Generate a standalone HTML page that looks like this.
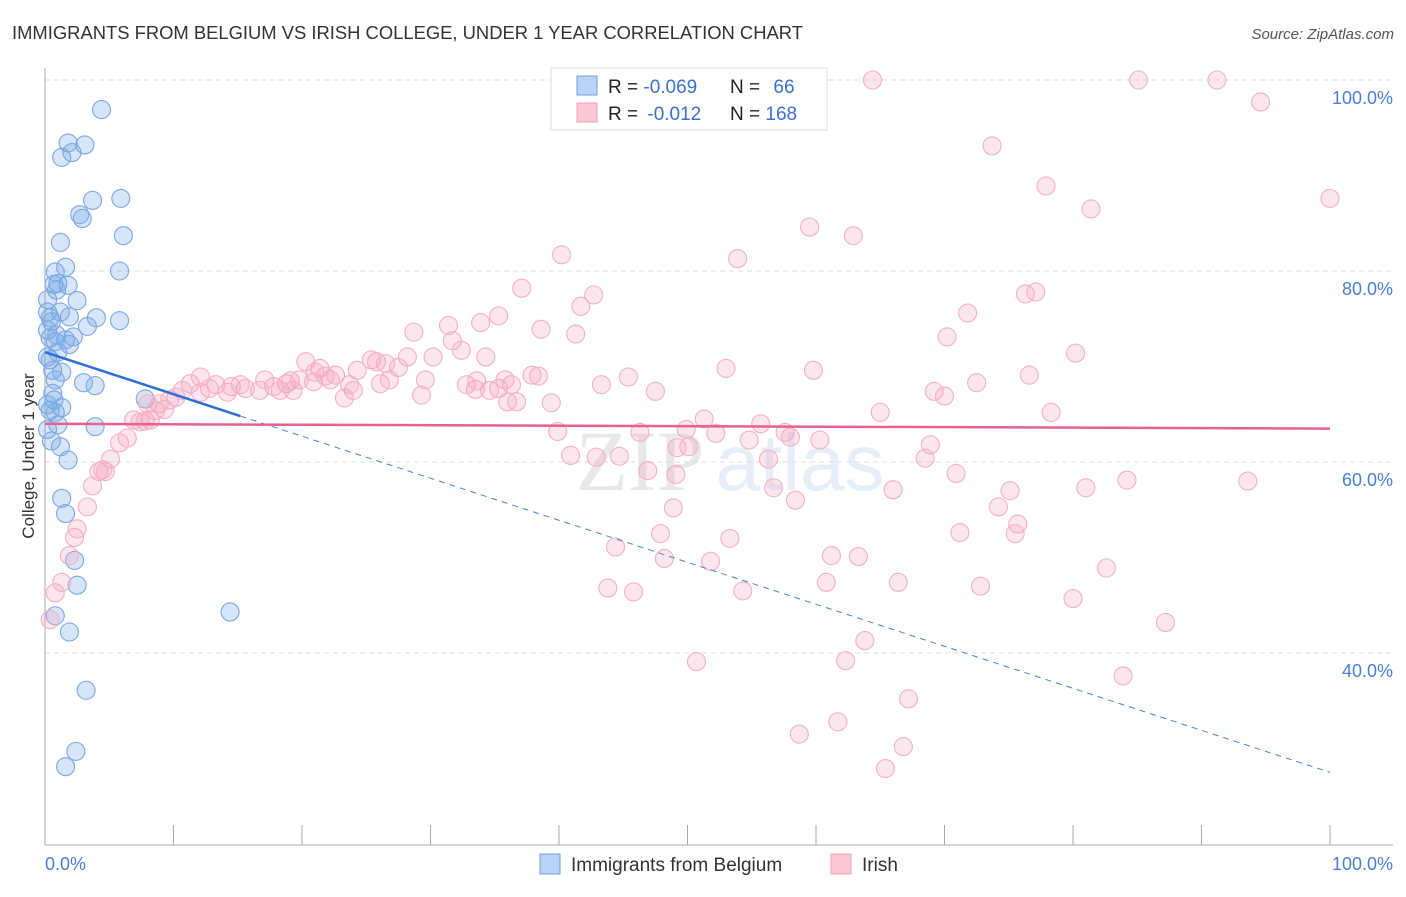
<!DOCTYPE html>
<html><head><meta charset="utf-8"><style>
body{margin:0;background:#fff;font-family:"Liberation Sans",sans-serif;}
</style></head><body>
<svg width="1406" height="892" xmlns="http://www.w3.org/2000/svg" id="chart" style="font-family:'Liberation Sans',sans-serif">
<text x="12" y="39" font-size="18.4" fill="#333">IMMIGRANTS FROM BELGIUM VS IRISH COLLEGE, UNDER 1 YEAR CORRELATION CHART</text>
<text x="1394" y="39" font-size="15" fill="#555" text-anchor="end" font-style="italic">Source: ZipAtlas.com</text>
<text transform="translate(34,456) rotate(-90)" font-size="17" fill="#333" text-anchor="middle">College, Under 1 year</text>
<g opacity="0.13"><text x="640" y="490" font-size="86" font-family="Liberation Serif,serif" fill="#555" text-anchor="middle">ZIP</text><text x="800" y="490" font-size="80" fill="#4a7fd8" text-anchor="middle">atlas</text></g>
<g id="grid"></g><g id="axes"></g><g id="pts"></g><g id="trends"></g>
<g>
<rect x="551" y="68" width="276" height="62" fill="#fff" stroke="#ddd"/>
<rect x="577" y="76" width="20" height="19" fill="#b9d3f5" stroke="#6b9fe0"/>
<rect x="577" y="103" width="20" height="19" fill="#f9c9d6" stroke="#f0a0b8"/>
<text x="608" y="93" font-size="19" fill="#222">R = <tspan fill="#3a70d0">-0.069</tspan></text>
<text x="730" y="93" font-size="19" fill="#222">N = <tspan fill="#3a70d0" dx="8">66</tspan></text>
<text x="608" y="120" font-size="19" fill="#222">R = <tspan fill="#3a70d0" dx="4">-0.012</tspan></text>
<text x="730" y="120" font-size="19" fill="#222">N = <tspan fill="#3a70d0">168</tspan></text>
</g>
<g>
<rect x="540" y="854" width="20" height="20" fill="#b9d3f5" stroke="#6b9fe0"/>
<text x="571" y="871" font-size="19" fill="#333">Immigrants from Belgium</text>
<rect x="831" y="854" width="20" height="20" fill="#f9c9d6" stroke="#f0a0b8"/>
<text x="862" y="871" font-size="19" fill="#333">Irish</text>
</g>
<text x="45" y="870" font-size="18" fill="#4a7fd8">0.0%</text>
<text x="1393" y="870" font-size="18" fill="#4a7fd8" text-anchor="end">100.0%</text>
</svg>
<script>
const yTicks=[100,80,60,40];
const yTickLabels=["100.0%","80.0%","60.0%","40.0%"];
const xTicks=[0,10,20,30,40,50,60,70,80,90,100];
const blueX=[4.4,1.8,3.1,2.1,1.3,3.7,5.9,2.7,2.9,6.1,1.2,1.6,0.8,5.8,0.7,1.8,1.0,2.5,0.2,1.2,0.4,1.9,4.0,5.8,3.3,0.5,0.2,0.9,2.2,1.6,0.4,0.8,1.9,1.0,0.2,1.3,0.8,3.0,3.9,0.6,0.7,0.4,1.3,0.8,7.8,3.9,0.5,1.2,1.8,1.3,1.6,2.3,2.5,0.8,1.9,14.4,3.2,2.4,1.6,0.2,1.0,0.2,0.4,0.6,0.2,0.9];
const blueY=[96.9,93.4,93.2,92.4,91.9,87.4,87.6,85.9,85.5,83.7,83.0,80.4,79.9,80.0,78.6,78.5,78.7,76.9,75.7,75.7,75.1,75.2,75.1,74.8,74.2,74.7,73.8,73.3,73.1,72.8,73.0,72.6,72.3,71.5,71.0,69.4,68.6,68.3,68.0,67.2,66.5,65.4,65.7,65.2,66.6,63.7,62.2,61.6,60.2,56.2,54.6,49.7,47.1,43.9,42.2,44.3,36.1,29.7,28.1,63.4,63.9,77.0,70.7,69.6,66.0,78.0];
const pinkX=[64.4,85.1,91.2,94.6,73.7,100,77.9,81.4,59.5,62.9,40.2,53.9,37.1,42.7,41.7,76.3,77.1,71.8,80.2,70.2,35.3,28.7,31.4,33.9,38.6,41.3,31.7,32.4,34.3,28.2,20.3,21.4,25.8,25.4,26.5,27.5,24.3,30.2,53.0,59.8,76.6,45.4,47.5,43.3,29.6,35.3,36.3,33.5,32.8,37.9,38.4,34.6,29.3,24.0,23.3,23.7,22.2,22.6,20.9,19.8,18.8,17.8,16.7,15.6,14.5,13.3,12.1,11.3,10.7,10.2,9.7,8.9,9.3,8.0,8.6,8.2,7.4,6.9,7.8,12.1,12.8,17.1,18.3,19.3,15.2,14.2,21.0,21.8,19.1,26.1,26.8,33.6,36.7,39.4,36.0,35.8,65.0,78.3,72.5,70.0,69.2,51.3,52.2,55.7,49.9,46.3,39.9,54.8,57.6,58.0,60.3,68.9,68.5,56.3,42.9,44.7,40.9,49.2,50.1,46.9,49.1,70.9,84.2,93.6,81.0,56.7,66.0,58.4,75.1,74.2,75.7,75.5,71.2,48.9,47.9,53.3,44.4,48.2,51.8,61.2,63.3,82.6,66.4,60.8,54.3,43.8,45.8,72.8,80.0,87.2,63.8,62.3,50.7,83.9,67.2,61.7,58.7,66.8,65.4,6.4,5.8,5.1,4.5,4.2,4.7,3.7,3.3,2.3,1.9,1.3,0.8,0.4,2.5];
const pinkY=[100,100,100,97.7,93.1,87.6,88.9,86.5,84.6,83.7,81.7,81.3,78.2,77.5,76.3,77.6,77.8,75.6,71.4,73.1,75.3,73.6,74.3,74.6,73.9,73.4,72.7,71.7,71.0,71.0,70.5,69.8,70.5,70.7,70.3,69.9,69.6,71.0,69.8,69.6,69.1,68.9,67.4,68.1,68.6,67.7,68.1,67.6,68.1,69.1,69.0,67.5,67.0,67.5,66.7,68.1,68.6,69.1,68.4,68.6,68.2,67.9,67.5,67.7,67.9,68.1,68.9,68.2,67.5,66.8,66.5,66.1,65.5,66.1,65.4,64.4,64.2,64.4,64.3,67.3,67.7,68.6,67.5,67.5,68.1,67.3,69.4,69.0,68.5,68.2,68.6,68.5,66.3,66.2,66.3,68.6,65.2,65.2,68.3,66.9,67.4,64.5,63.0,64.0,63.4,63.1,63.2,62.3,63.1,62.6,62.3,61.8,60.4,60.3,60.5,60.6,60.7,61.5,61.6,59.1,58.7,58.8,58.1,58.0,57.3,57.3,57.1,56.0,57.0,55.3,53.5,52.5,52.6,55.2,52.5,52.0,51.1,49.9,49.6,50.2,50.1,48.9,47.4,47.4,46.5,46.8,46.4,47.0,45.7,43.2,41.3,39.2,39.1,37.6,35.2,32.8,31.5,30.2,27.9,62.5,62.0,60.3,59.2,59.0,59.0,57.5,55.3,52.1,50.2,47.4,46.3,43.5,53.0];
const blueTrend=[71.5,-0.44]; // intercept, slope
const blueTrendSolidEnd=15.2;
const pinkTrend=[64.0,-0.005];
const X0=45,X1=1330,YTOP=80,PXPER=9.55;
const sx=v=>X0+(X1-X0)*v/100;
const sy=v=>YTOP+(100-v)*PXPER;
const NS="http://www.w3.org/2000/svg";
function mk(tag,attrs,parent){const e=document.createElementNS(NS,tag);for(const k in attrs)e.setAttribute(k,attrs[k]);document.getElementById(parent).appendChild(e);return e;}
yTicks.forEach((t,i)=>{
 const g=mk('line',{x1:X0,x2:1393,y1:sy(t),y2:sy(t),stroke:'#ddd','stroke-dasharray':'5,4'},'grid');
 
 
 const l=mk('text',{x:1393,y:sy(t)+24,'font-size':18,fill:'#4a7fd8','text-anchor':'end'},'grid');
 
 
 l.textContent=yTickLabels[i];
});
const ax=mk('line',{x1:X0,x2:X0,y1:68,y2:845,stroke:'#aaa'},'axes');


const bx=mk('line',{x1:X0,x2:1393,y1:845,y2:845,stroke:'#aaa'},'axes');


xTicks.forEach(t=>{const k=mk('line',{x1:sx(t),x2:sx(t),y1:825,y2:845,stroke:'#aaa'},'axes');
 
 });
blueX.forEach((v,i)=>{const c=mk('circle',{cx:sx(v),cy:sy(blueY[i]),r:9,fill:'rgba(120,170,230,0.3)',stroke:'#7aa8e4','stroke-width':1.1},'pts');
 
 });
pinkX.forEach((v,i)=>{const c=mk('circle',{cx:sx(v),cy:sy(pinkY[i]),r:9,fill:'rgba(245,165,190,0.28)',stroke:'#f4b0c4','stroke-width':1.1},'pts');
 
 });
const bt=x=>blueTrend[0]+blueTrend[1]*x, pt=x=>pinkTrend[0]+pinkTrend[1]*x;
const l1=mk('line',{x1:sx(0),y1:sy(bt(0)),x2:sx(blueTrendSolidEnd),y2:sy(bt(blueTrendSolidEnd)),stroke:'#2d6fd6','stroke-width':2.5},'trends');


const l2=mk('line',{x1:sx(blueTrendSolidEnd),y1:sy(bt(blueTrendSolidEnd)),x2:sx(100),y2:sy(bt(100)),stroke:'#4a7fd8','stroke-width':1,'stroke-dasharray':'6,5'},'trends');


const l3=mk('line',{x1:sx(0),y1:sy(pt(0)),x2:sx(100),y2:sy(pt(100)),stroke:'#e8618c','stroke-width':2.5},'trends');


</script>
</body></html>
